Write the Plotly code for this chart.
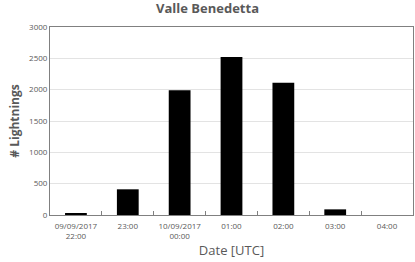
import plotly.graph_objects as go

categories = ["09/09/2017<br>22:00", "23:00", "10/09/2017<br>00:00", "01:00", "02:00", "03:00", "04:00"]
lightnings = [30, 410, 1990, 2520, 2110, 90, 0]
y_ticks = [0, 500, 1000, 1500, 2000, 2500, 3000]

font_family = "Open Sans, Liberation Sans, sans-serif"
grey = "#595959"

fig = go.Figure(
    go.Bar(
        x=categories,
        y=lightnings,
        width=0.42,
        marker=dict(color="black", line=dict(width=0)),
    )
)

fig.update_layout(
    width=415,
    height=262,
    margin=dict(l=50, r=2, t=27, b=47),
    plot_bgcolor="white",
    paper_bgcolor="white",
    showlegend=False,
    title=dict(
        text="<b>Valle Benedetta</b>",
        x=0.5,
        xanchor="center",
        y=0.968,
        yanchor="middle",
        font=dict(family=font_family, size=13, color=grey),
    ),
)

fig.update_xaxes(
    type="category",
    automargin=False,
    tickangle=0,
    tickson="boundaries",
    ticks="inside",
    ticklen=4,
    tickcolor="#808080",
    showline=True,
    linecolor="#808080",
    linewidth=1,
    mirror=True,
    showgrid=False,
    ticklabelstandoff=3,
    tickfont=dict(family=font_family, size=8, color=grey),
    title=dict(text="Date [UTC]", font=dict(family=font_family, size=13, color=grey), standoff=4),
)

fig.update_yaxes(
    automargin=False,
    range=[0, 3000],
    tickvals=y_ticks,
    showline=True,
    linecolor="#808080",
    linewidth=1,
    mirror=True,
    showgrid=True,
    gridcolor="#e3e3e3",
    gridwidth=1,
    zeroline=False,
    ticks="",
    tickfont=dict(family=font_family, size=8, color=grey),
    title=dict(text="<b># Lightnings</b>", font=dict(family=font_family, size=12, color=grey), standoff=6),
)

fig.write_html(
    "out.html",
    config={"displayModeBar": False},
    post_script="document.body.style.margin='0';document.body.style.padding='0';",
)
